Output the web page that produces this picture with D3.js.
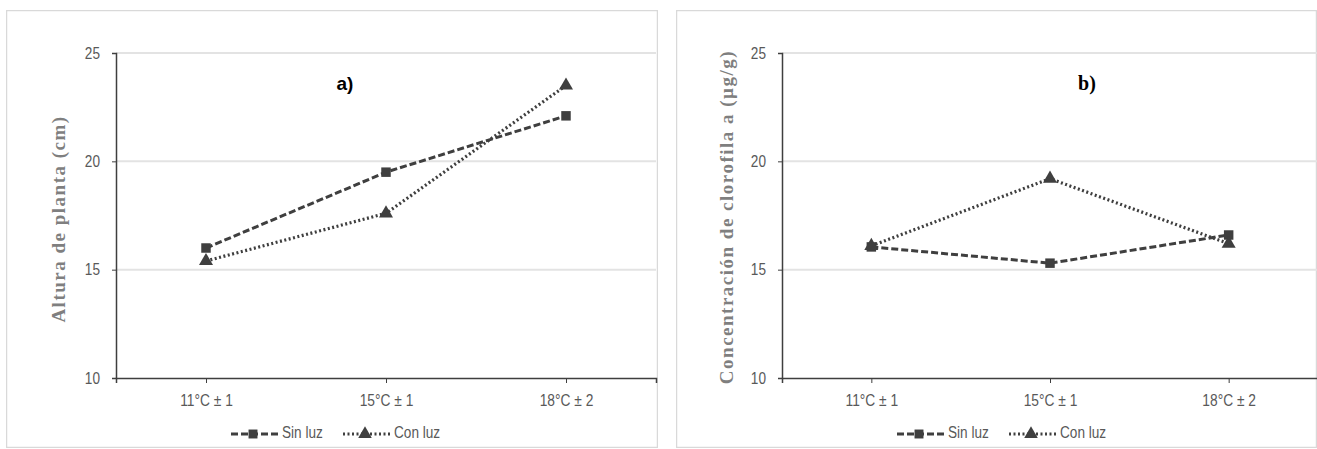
<!DOCTYPE html>
<html>
<head>
<meta charset="utf-8">
<script src="https://cdn.jsdelivr.net/npm/d3@7"></script>
<style>
  body { margin: 0; background: #fff; }
  svg { display: block; }
  .tick-label { font-family: "Liberation Sans", Arial, sans-serif; font-size: 16px; fill: #595959; }
  .ylabel { font-family: "Liberation Serif", "DejaVu Serif", serif; font-weight: bold; font-size: 19px; letter-spacing: 1.5px; fill: #7f7f7f; }
</style>
</head>
<body>
<div id="chart"></div>
<script>
const categories = ["11°C ± 1", "15°C ± 1", "18°C ± 2"];
const yTicks = [10, 15, 20, 25];
const seriesNames = ["Sin luz", "Con luz"];

// panel a) altura de planta (cm)
const alturaSinLuz = [16.0, 19.5, 22.1];
const alturaConLuz = [15.4, 17.6, 23.5];
// panel b) clorofila a (µg/g)
const clorofilaSinLuz = [16.05, 15.3, 16.6];
const clorofilaConLuz = [16.1, 19.2, 16.2];

const width = 1317;
const height = 449;

const svg = d3.select("#chart").append("svg")
  .attr("width", width)
  .attr("height", height);

const panels = [
  {
    box: [6, 10, 651, 437],
    plot: { left: 116, right: 656, top: 53, bottom: 378 },
    title: "a)", titleX: 345, titleFont: "bold 19px 'Liberation Sans', Arial, sans-serif",
    ylabel: "Altura de planta (cm)", ylabelX: 61, ylabelY: 219,
    series: [alturaSinLuz, alturaConLuz],
    legendX: 231,
  },
  {
    box: [676, 10, 640, 437],
    plot: { left: 782, right: 1318, top: 53, bottom: 378 },
    title: "b)", titleX: 1087, titleFont: "bold 20px 'Liberation Serif', 'Times New Roman', serif",
    ylabel: "Concentración de clorofila a (µg/g)", ylabelX: 729, ylabelY: 217,
    series: [clorofilaSinLuz, clorofilaConLuz],
    legendX: 897,
  },
];

const ink = "#3f3f3f";
const dashes = ["7,3", "2,2.5"];

// squeeze text to look like a narrow face
function condense(sel, k) {
  sel.each(function () {
    const len = this.getComputedTextLength();
    d3.select(this)
      .attr("textLength", len * k)
      .attr("lengthAdjust", "spacingAndGlyphs");
  });
}

panels.forEach((p) => {
  const [bx, by, bw, bh] = p.box;
  const clipId = "clip" + p.title[0];
  svg.append("clipPath").attr("id", clipId)
    .append("rect").attr("x", bx).attr("y", by).attr("width", bw + 1).attr("height", bh + 1);

  const g = svg.append("g").attr("clip-path", `url(#${clipId})`);

  g.append("rect")
    .attr("x", bx + 0.5).attr("y", by + 0.5)
    .attr("width", bw).attr("height", bh)
    .attr("fill", "#fff")
    .attr("stroke", "#d9d9d9")
    .attr("stroke-width", 1.5);

  const x = d3.scalePoint()
    .domain(categories)
    .range([p.plot.left, p.plot.right])
    .padding(0.5);
  const y = d3.scaleLinear()
    .domain([10, 25])
    .range([p.plot.bottom, p.plot.top]);

  // gridlines
  g.selectAll(".grid")
    .data(yTicks.filter((d) => d > 10))
    .join("line")
    .attr("x1", p.plot.left).attr("x2", p.plot.right)
    .attr("y1", (d) => y(d)).attr("y2", (d) => y(d))
    .attr("stroke", "#e3e3e3")
    .attr("stroke-width", 2);

  // y axis
  const yAxis = g.append("g")
    .attr("transform", `translate(${p.plot.left},0)`)
    .call(d3.axisLeft(y).tickValues(yTicks).tickSize(4).tickPadding(12));
  yAxis.select(".domain").attr("stroke", ink).attr("stroke-width", 1.5);
  yAxis.selectAll(".tick line").attr("stroke", ink);
  yAxis.selectAll(".tick text").attr("class", "tick-label").call(condense, 0.85);

  // x axis
  const xAxis = g.append("g")
    .attr("transform", `translate(0,${p.plot.bottom})`)
    .call(d3.axisBottom(x).tickSizeOuter(0).tickSize(5).tickPadding(12));
  xAxis.select(".domain").attr("stroke", ink).attr("stroke-width", 1.5);
  xAxis.selectAll(".tick line").attr("stroke", ink);
  xAxis.selectAll(".tick text").attr("class", "tick-label").call(condense, 0.86);

  // y label
  g.append("text")
    .attr("class", "ylabel")
    .attr("transform", `translate(${p.ylabelX},${p.ylabelY}) rotate(-90)`)
    .attr("text-anchor", "middle")
    .attr("dominant-baseline", "middle")
    .text(p.ylabel);

  // title
  g.append("text")
    .attr("x", p.titleX).attr("y", 90)
    .attr("text-anchor", "middle")
    .style("font", p.titleFont)
    .attr("fill", "#000")
    .text(p.title);

  const line = d3.line()
    .x((d, i) => x(categories[i]))
    .y((d) => y(d));

  p.series.forEach((vals, si) => {
    g.append("path")
      .datum(vals)
      .attr("d", line)
      .attr("fill", "none")
      .attr("stroke", ink)
      .attr("stroke-width", si === 0 ? 3 : 3.2)
      .attr("stroke-dasharray", dashes[si]);

    const sym = si === 0 ? d3.symbolSquare : d3.symbolTriangle;
    g.selectAll(".m" + si)
      .data(vals)
      .join("path")
      .attr("transform", (d, i) => `translate(${x(categories[i])},${y(d)})`)
      .attr("d", d3.symbol(sym, si === 0 ? 90 : 85))
      .attr("fill", ink);
  });

  // legend
  const ly = 434;
  const lg = g.append("g").attr("transform", `translate(${p.legendX},${ly})`);
  const items = [
    { name: seriesNames[0], x0: 0, dash: dashes[0], sym: d3.symbolSquare },
    { name: seriesNames[1], x0: 112, dash: dashes[1], sym: d3.symbolTriangle },
  ];
  items.forEach((it) => {
    lg.append("line")
      .attr("x1", it.x0).attr("x2", it.x0 + 48)
      .attr("y1", 0).attr("y2", 0)
      .attr("stroke", ink)
      .attr("stroke-width", 3)
      .attr("stroke-dasharray", it.dash);
    lg.append("path")
      .attr("transform", `translate(${it.x0 + 22},0)`)
      .attr("d", d3.symbol(it.sym, 80))
      .attr("fill", ink);
    lg.append("text")
      .attr("class", "tick-label")
      .attr("x", it.x0 + 51).attr("y", 0)
      .attr("dominant-baseline", "middle")
      .text(it.name)
      .call(condense, 0.85);
  });
});
</script>
</body>
</html>
